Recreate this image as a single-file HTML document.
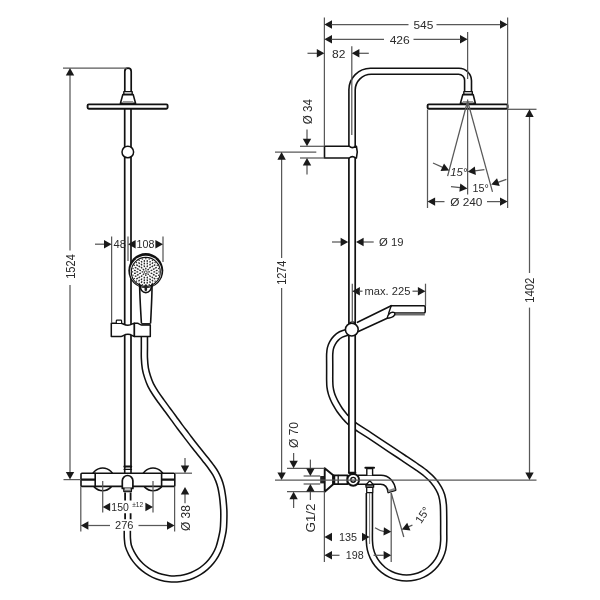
<!DOCTYPE html>
<html><head><meta charset="utf-8"><title>Drawing</title>
<style>
html,body{margin:0;padding:0;background:#fff;}
body{width:600px;height:600px;overflow:hidden;}
svg{display:block;will-change:transform;filter:blur(0.4px);}
text{font-family:"Liberation Sans",sans-serif;fill:#2b2b2b;}
</style></head><body>
<svg width="600" height="600" viewBox="0 0 600 600">
<rect width="600" height="600" fill="#fff"/>
<g id="left">
<path d="M144.40,336.00 C144.40,338.00 144.40,344.33 144.40,348.00 C144.40,351.67 144.24,354.62 144.40,358.00 C144.56,361.38 144.83,365.18 145.35,368.30 C145.87,371.42 146.61,373.92 147.50,376.70 C148.39,379.48 149.35,382.23 150.70,385.00 C152.05,387.77 153.80,390.52 155.60,393.30 C157.40,396.08 159.49,398.92 161.50,401.70 C163.51,404.48 165.61,407.23 167.65,410.00 C169.69,412.77 171.72,415.52 173.75,418.30 C175.78,421.08 177.78,423.92 179.85,426.70 C181.92,429.48 183.65,431.67 186.20,435.00 C188.75,438.33 191.88,442.53 195.15,446.70 C198.42,450.87 203.16,456.67 205.80,460.00 C208.44,463.33 209.38,464.48 211.00,466.70 C212.62,468.92 214.22,471.08 215.50,473.30 C216.78,475.52 217.77,477.77 218.65,480.00 C219.53,482.23 220.23,484.48 220.80,486.70 C221.38,488.92 221.73,491.08 222.10,493.30 C222.47,495.52 222.72,497.22 223.00,500.00 C223.28,502.78 223.67,506.67 223.80,510.00 C223.93,513.33 223.90,516.67 223.80,520.00 C223.70,523.33 223.65,526.64 223.20,530.00 C222.75,533.36 221.82,537.20 221.12,540.16 C220.41,543.12 219.89,545.30 218.98,547.76 C218.06,550.22 216.93,552.63 215.62,554.91 C214.31,557.18 212.80,559.38 211.14,561.41 C209.48,563.44 207.62,565.36 205.65,567.09 C203.68,568.82 201.53,570.41 199.30,571.79 C197.07,573.17 194.70,574.39 192.27,575.39 C189.85,576.38 187.30,577.19 184.75,577.78 C182.19,578.37 179.55,578.75 176.93,578.91 C174.31,579.07 171.64,579.01 169.03,578.74 C166.43,578.47 163.80,577.98 161.27,577.28 C158.74,576.59 156.24,575.67 153.86,574.57 C151.48,573.47 149.15,572.15 146.99,570.68 C144.82,569.20 142.74,567.52 140.85,565.71 C138.95,563.90 137.18,561.90 135.60,559.80 C134.03,557.70 132.61,555.45 131.40,553.12 C130.19,550.79 129.02,548.27 128.35,545.83 C127.68,543.40 127.57,540.81 127.40,538.50 C127.23,536.19 127.32,534.08 127.30,532.00 C127.28,529.92 127.30,527.00 127.30,526.00" fill="none" stroke="#111" stroke-width="7.7" stroke-linecap="butt"/>
<path d="M144.40,336.00 C144.40,338.00 144.40,344.33 144.40,348.00 C144.40,351.67 144.24,354.62 144.40,358.00 C144.56,361.38 144.83,365.18 145.35,368.30 C145.87,371.42 146.61,373.92 147.50,376.70 C148.39,379.48 149.35,382.23 150.70,385.00 C152.05,387.77 153.80,390.52 155.60,393.30 C157.40,396.08 159.49,398.92 161.50,401.70 C163.51,404.48 165.61,407.23 167.65,410.00 C169.69,412.77 171.72,415.52 173.75,418.30 C175.78,421.08 177.78,423.92 179.85,426.70 C181.92,429.48 183.65,431.67 186.20,435.00 C188.75,438.33 191.88,442.53 195.15,446.70 C198.42,450.87 203.16,456.67 205.80,460.00 C208.44,463.33 209.38,464.48 211.00,466.70 C212.62,468.92 214.22,471.08 215.50,473.30 C216.78,475.52 217.77,477.77 218.65,480.00 C219.53,482.23 220.23,484.48 220.80,486.70 C221.38,488.92 221.73,491.08 222.10,493.30 C222.47,495.52 222.72,497.22 223.00,500.00 C223.28,502.78 223.67,506.67 223.80,510.00 C223.93,513.33 223.90,516.67 223.80,520.00 C223.70,523.33 223.65,526.64 223.20,530.00 C222.75,533.36 221.82,537.20 221.12,540.16 C220.41,543.12 219.89,545.30 218.98,547.76 C218.06,550.22 216.93,552.63 215.62,554.91 C214.31,557.18 212.80,559.38 211.14,561.41 C209.48,563.44 207.62,565.36 205.65,567.09 C203.68,568.82 201.53,570.41 199.30,571.79 C197.07,573.17 194.70,574.39 192.27,575.39 C189.85,576.38 187.30,577.19 184.75,577.78 C182.19,578.37 179.55,578.75 176.93,578.91 C174.31,579.07 171.64,579.01 169.03,578.74 C166.43,578.47 163.80,577.98 161.27,577.28 C158.74,576.59 156.24,575.67 153.86,574.57 C151.48,573.47 149.15,572.15 146.99,570.68 C144.82,569.20 142.74,567.52 140.85,565.71 C138.95,563.90 137.18,561.90 135.60,559.80 C134.03,557.70 132.61,555.45 131.40,553.12 C130.19,550.79 129.02,548.27 128.35,545.83 C127.68,543.40 127.57,540.81 127.40,538.50 C127.23,536.19 127.32,534.08 127.30,532.00 C127.28,529.92 127.30,527.00 127.30,526.00" fill="none" stroke="#fff" stroke-width="4.6" stroke-linecap="butt"/>
<circle cx="102.7" cy="479.3" r="11.4" fill="#fff" stroke="#111" stroke-width="1.5"/>
<circle cx="153" cy="479.3" r="11.4" fill="#fff" stroke="#111" stroke-width="1.5"/>
<path d="M124.7,109 V467 M131,109 V467" fill="none" stroke="#111" stroke-width="1.7" stroke-linejoin="round" stroke-linecap="round" />
<path d="M124.8,91.5 V71.4 a3.2,3.2 0 0 1 6.4,0 V91.5" fill="none" stroke="#111" stroke-width="1.7" stroke-linejoin="round" stroke-linecap="round" />
<path d="M123.8,91.6 H132.2 V94.5 H123.8 Z" fill="#fff" stroke="#111" stroke-width="1.4" stroke-linejoin="round" stroke-linecap="round" />
<path d="M122.8,94.6 L120.4,103.4 H135.6 L133.2,94.6 Z" fill="#fff" stroke="#111" stroke-width="1.6" stroke-linejoin="round" stroke-linecap="round" />
<rect x="122.8" y="101" width="10.4" height="2.2" fill="#999"/>
<rect x="87.6" y="104.4" width="80" height="4.4" rx="1.2" fill="#fff" stroke="#111" stroke-width="1.9"/>
<circle cx="127.8" cy="152" r="5.8" fill="#fff" stroke="#111" stroke-width="1.5"/>
<circle cx="145.8" cy="270.6" r="17.5" fill="#111"/>
<circle cx="145.8" cy="271.5" r="15.7" fill="#fff"/>
<circle cx="145.8" cy="271.9" r="14.5" fill="#fff" stroke="#111" stroke-width="1.1"/>
<line x1="148.25" y1="271.90" x2="149.95" y2="271.90" stroke="#2a2a2a" stroke-width="1.35"/>
<line x1="147.53" y1="273.63" x2="148.73" y2="274.83" stroke="#2a2a2a" stroke-width="1.35"/>
<line x1="145.80" y1="274.35" x2="145.80" y2="276.05" stroke="#2a2a2a" stroke-width="1.35"/>
<line x1="144.07" y1="273.63" x2="142.87" y2="274.83" stroke="#2a2a2a" stroke-width="1.35"/>
<line x1="143.35" y1="271.90" x2="141.65" y2="271.90" stroke="#2a2a2a" stroke-width="1.35"/>
<line x1="144.07" y1="270.17" x2="142.87" y2="268.97" stroke="#2a2a2a" stroke-width="1.35"/>
<line x1="145.80" y1="269.45" x2="145.80" y2="267.75" stroke="#2a2a2a" stroke-width="1.35"/>
<line x1="147.53" y1="270.17" x2="148.73" y2="268.97" stroke="#2a2a2a" stroke-width="1.35"/>
<line x1="150.63" y1="273.19" x2="152.37" y2="273.66" stroke="#2a2a2a" stroke-width="1.35"/>
<line x1="149.34" y1="275.44" x2="150.61" y2="276.71" stroke="#2a2a2a" stroke-width="1.35"/>
<line x1="147.09" y1="276.73" x2="147.56" y2="278.47" stroke="#2a2a2a" stroke-width="1.35"/>
<line x1="144.51" y1="276.73" x2="144.04" y2="278.47" stroke="#2a2a2a" stroke-width="1.35"/>
<line x1="142.26" y1="275.44" x2="140.99" y2="276.71" stroke="#2a2a2a" stroke-width="1.35"/>
<line x1="140.97" y1="273.19" x2="139.23" y2="273.66" stroke="#2a2a2a" stroke-width="1.35"/>
<line x1="140.97" y1="270.61" x2="139.23" y2="270.14" stroke="#2a2a2a" stroke-width="1.35"/>
<line x1="142.26" y1="268.36" x2="140.99" y2="267.09" stroke="#2a2a2a" stroke-width="1.35"/>
<line x1="144.51" y1="267.07" x2="144.04" y2="265.33" stroke="#2a2a2a" stroke-width="1.35"/>
<line x1="147.09" y1="267.07" x2="147.56" y2="265.33" stroke="#2a2a2a" stroke-width="1.35"/>
<line x1="149.34" y1="268.36" x2="150.61" y2="267.09" stroke="#2a2a2a" stroke-width="1.35"/>
<line x1="150.63" y1="270.61" x2="152.37" y2="270.14" stroke="#2a2a2a" stroke-width="1.35"/>
<line x1="153.40" y1="271.90" x2="155.20" y2="271.90" stroke="#2a2a2a" stroke-width="1.35"/>
<line x1="152.94" y1="274.50" x2="154.63" y2="275.11" stroke="#2a2a2a" stroke-width="1.35"/>
<line x1="151.62" y1="276.79" x2="153.00" y2="277.94" stroke="#2a2a2a" stroke-width="1.35"/>
<line x1="149.60" y1="278.48" x2="150.50" y2="280.04" stroke="#2a2a2a" stroke-width="1.35"/>
<line x1="147.12" y1="279.38" x2="147.43" y2="281.16" stroke="#2a2a2a" stroke-width="1.35"/>
<line x1="144.48" y1="279.38" x2="144.17" y2="281.16" stroke="#2a2a2a" stroke-width="1.35"/>
<line x1="142.00" y1="278.48" x2="141.10" y2="280.04" stroke="#2a2a2a" stroke-width="1.35"/>
<line x1="139.98" y1="276.79" x2="138.60" y2="277.94" stroke="#2a2a2a" stroke-width="1.35"/>
<line x1="138.66" y1="274.50" x2="136.97" y2="275.11" stroke="#2a2a2a" stroke-width="1.35"/>
<line x1="138.20" y1="271.90" x2="136.40" y2="271.90" stroke="#2a2a2a" stroke-width="1.35"/>
<line x1="138.66" y1="269.30" x2="136.97" y2="268.69" stroke="#2a2a2a" stroke-width="1.35"/>
<line x1="139.98" y1="267.01" x2="138.60" y2="265.86" stroke="#2a2a2a" stroke-width="1.35"/>
<line x1="142.00" y1="265.32" x2="141.10" y2="263.76" stroke="#2a2a2a" stroke-width="1.35"/>
<line x1="144.48" y1="264.42" x2="144.17" y2="262.64" stroke="#2a2a2a" stroke-width="1.35"/>
<line x1="147.12" y1="264.42" x2="147.43" y2="262.64" stroke="#2a2a2a" stroke-width="1.35"/>
<line x1="149.60" y1="265.32" x2="150.50" y2="263.76" stroke="#2a2a2a" stroke-width="1.35"/>
<line x1="151.62" y1="267.01" x2="153.00" y2="265.86" stroke="#2a2a2a" stroke-width="1.35"/>
<line x1="152.94" y1="269.30" x2="154.63" y2="268.69" stroke="#2a2a2a" stroke-width="1.35"/>
<line x1="155.81" y1="273.22" x2="157.60" y2="273.45" stroke="#2a2a2a" stroke-width="1.35"/>
<line x1="155.13" y1="275.77" x2="156.79" y2="276.45" stroke="#2a2a2a" stroke-width="1.35"/>
<line x1="153.81" y1="278.05" x2="155.24" y2="279.14" stroke="#2a2a2a" stroke-width="1.35"/>
<line x1="151.95" y1="279.91" x2="153.04" y2="281.34" stroke="#2a2a2a" stroke-width="1.35"/>
<line x1="149.67" y1="281.23" x2="150.35" y2="282.89" stroke="#2a2a2a" stroke-width="1.35"/>
<line x1="147.12" y1="281.91" x2="147.35" y2="283.70" stroke="#2a2a2a" stroke-width="1.35"/>
<line x1="144.48" y1="281.91" x2="144.25" y2="283.70" stroke="#2a2a2a" stroke-width="1.35"/>
<line x1="141.93" y1="281.23" x2="141.25" y2="282.89" stroke="#2a2a2a" stroke-width="1.35"/>
<line x1="139.65" y1="279.91" x2="138.56" y2="281.34" stroke="#2a2a2a" stroke-width="1.35"/>
<line x1="137.79" y1="278.05" x2="136.36" y2="279.14" stroke="#2a2a2a" stroke-width="1.35"/>
<line x1="136.47" y1="275.77" x2="134.81" y2="276.45" stroke="#2a2a2a" stroke-width="1.35"/>
<line x1="135.79" y1="273.22" x2="134.00" y2="273.45" stroke="#2a2a2a" stroke-width="1.35"/>
<line x1="135.79" y1="270.58" x2="134.00" y2="270.35" stroke="#2a2a2a" stroke-width="1.35"/>
<line x1="136.47" y1="268.03" x2="134.81" y2="267.35" stroke="#2a2a2a" stroke-width="1.35"/>
<line x1="137.79" y1="265.75" x2="136.36" y2="264.66" stroke="#2a2a2a" stroke-width="1.35"/>
<line x1="139.65" y1="263.89" x2="138.56" y2="262.46" stroke="#2a2a2a" stroke-width="1.35"/>
<line x1="141.93" y1="262.57" x2="141.25" y2="260.91" stroke="#2a2a2a" stroke-width="1.35"/>
<line x1="144.48" y1="261.89" x2="144.25" y2="260.10" stroke="#2a2a2a" stroke-width="1.35"/>
<line x1="147.12" y1="261.89" x2="147.35" y2="260.10" stroke="#2a2a2a" stroke-width="1.35"/>
<line x1="149.67" y1="262.57" x2="150.35" y2="260.91" stroke="#2a2a2a" stroke-width="1.35"/>
<line x1="151.95" y1="263.89" x2="153.04" y2="262.46" stroke="#2a2a2a" stroke-width="1.35"/>
<line x1="153.81" y1="265.75" x2="155.24" y2="264.66" stroke="#2a2a2a" stroke-width="1.35"/>
<line x1="155.13" y1="268.03" x2="156.79" y2="267.35" stroke="#2a2a2a" stroke-width="1.35"/>
<line x1="155.81" y1="270.58" x2="157.60" y2="270.35" stroke="#2a2a2a" stroke-width="1.35"/>
<line x1="158.45" y1="271.90" x2="159.55" y2="271.90" stroke="#2a2a2a" stroke-width="1.35"/>
<line x1="158.02" y1="275.17" x2="159.08" y2="275.46" stroke="#2a2a2a" stroke-width="1.35"/>
<line x1="156.76" y1="278.22" x2="157.71" y2="278.77" stroke="#2a2a2a" stroke-width="1.35"/>
<line x1="154.74" y1="280.84" x2="155.52" y2="281.62" stroke="#2a2a2a" stroke-width="1.35"/>
<line x1="152.12" y1="282.86" x2="152.68" y2="283.81" stroke="#2a2a2a" stroke-width="1.35"/>
<line x1="149.07" y1="284.12" x2="149.36" y2="285.18" stroke="#2a2a2a" stroke-width="1.35"/>
<line x1="145.80" y1="284.55" x2="145.80" y2="285.65" stroke="#2a2a2a" stroke-width="1.35"/>
<line x1="142.53" y1="284.12" x2="142.24" y2="285.18" stroke="#2a2a2a" stroke-width="1.35"/>
<line x1="139.48" y1="282.86" x2="138.93" y2="283.81" stroke="#2a2a2a" stroke-width="1.35"/>
<line x1="136.86" y1="280.84" x2="136.08" y2="281.62" stroke="#2a2a2a" stroke-width="1.35"/>
<line x1="134.84" y1="278.22" x2="133.89" y2="278.77" stroke="#2a2a2a" stroke-width="1.35"/>
<line x1="133.58" y1="275.17" x2="132.52" y2="275.46" stroke="#2a2a2a" stroke-width="1.35"/>
<line x1="133.15" y1="271.90" x2="132.05" y2="271.90" stroke="#2a2a2a" stroke-width="1.35"/>
<line x1="133.58" y1="268.63" x2="132.52" y2="268.34" stroke="#2a2a2a" stroke-width="1.35"/>
<line x1="134.84" y1="265.57" x2="133.89" y2="265.02" stroke="#2a2a2a" stroke-width="1.35"/>
<line x1="136.86" y1="262.96" x2="136.08" y2="262.18" stroke="#2a2a2a" stroke-width="1.35"/>
<line x1="139.47" y1="260.94" x2="138.93" y2="259.99" stroke="#2a2a2a" stroke-width="1.35"/>
<line x1="142.53" y1="259.68" x2="142.24" y2="258.62" stroke="#2a2a2a" stroke-width="1.35"/>
<line x1="145.80" y1="259.25" x2="145.80" y2="258.15" stroke="#2a2a2a" stroke-width="1.35"/>
<line x1="149.07" y1="259.68" x2="149.36" y2="258.62" stroke="#2a2a2a" stroke-width="1.35"/>
<line x1="152.12" y1="260.94" x2="152.68" y2="259.99" stroke="#2a2a2a" stroke-width="1.35"/>
<line x1="154.74" y1="262.96" x2="155.52" y2="262.18" stroke="#2a2a2a" stroke-width="1.35"/>
<line x1="156.76" y1="265.57" x2="157.71" y2="265.02" stroke="#2a2a2a" stroke-width="1.35"/>
<line x1="158.02" y1="268.63" x2="159.08" y2="268.34" stroke="#2a2a2a" stroke-width="1.35"/>
<circle cx="145.8" cy="272.2" r="1.4" fill="#fff" stroke="#333" stroke-width="0.9"/>
<path d="M139.7,284.5 C139.5,292 140,300 141.4,323 M152,284.5 C152.2,292 151.8,300 150.6,323" fill="none" stroke="#111" stroke-width="1.6" stroke-linejoin="round" stroke-linecap="round" />
<path d="M140,285.5 C141,295 150.6,295 151.8,285.5" fill="none" stroke="#111" stroke-width="1.6" stroke-linejoin="round" stroke-linecap="round" />
<rect x="144.5" y="284.4" width="2.6" height="6.6" rx="1.2" fill="#222"/>
<path d="M111.3,323.2 H121 C123,323.2 124,325.3 127.9,325.3 C131.8,325.3 132.6,323.2 134.4,323.2 V336.4 C132.6,336.4 131.8,334.3 127.9,334.3 C124,334.3 123,336.4 121,336.4 H111.3 Z" fill="#fff" stroke="#111" stroke-width="1.5" stroke-linejoin="round" stroke-linecap="round" />
<path d="M134.4,323.2 H137.5 C139,323.2 139.5,325 141.4,325 H150.3 V336.4 H134.4 Z" fill="#fff" stroke="#111" stroke-width="1.5" stroke-linejoin="round" stroke-linecap="round" />
<path d="M116.3,323 V321 a0.8,0.8 0 0 1 .8,-.8 H120.8 a0.8,0.8 0 0 1 .8,.8 V323" fill="#fff" stroke="#111" stroke-width="1.2" stroke-linejoin="round" stroke-linecap="round" />
<rect x="141.6" y="323" width="8.8" height="2.2" fill="#222"/>
<rect x="81" y="473.2" width="93.8" height="13.2" rx="1" fill="#fff" stroke="#111" stroke-width="1.6"/>
<path d="M95.2,473.2 V486.4 M161.6,473.2 V486.4" fill="none" stroke="#111" stroke-width="1.6" stroke-linejoin="round" stroke-linecap="round" />
<path d="M82,479.6 H95 M162,479.6 H174" fill="none" stroke="#111" stroke-width="2.2" stroke-linejoin="round" stroke-linecap="round" />
<path d="M124.4,466.6 H131.2" fill="none" stroke="#111" stroke-width="2" stroke-linejoin="round" stroke-linecap="round" />
<path d="M124.2,469.4 H131.4" fill="none" stroke="#111" stroke-width="1.4" stroke-linejoin="round" stroke-linecap="round" />
<path d="M124.7,467 V473 M131,467 V473" fill="none" stroke="#111" stroke-width="1.6" stroke-linejoin="round" stroke-linecap="round" />
<path d="M122.3,488.4 V480.8 a5.3,5.3 0 0 1 10.6,0 V488.4 Z" fill="#fff" stroke="#111" stroke-width="1.7" stroke-linejoin="round" stroke-linecap="round" />
<path d="M123.9,488.4 V491.6 H131.3 V488.4" fill="#fff" stroke="#111" stroke-width="1.5" stroke-linejoin="round" stroke-linecap="round" />
<rect x="124.6" y="489.6" width="6" height="1.6" fill="#777"/>
<path d="M125.1,492.4 V500.4 M130.6,492.4 V500.4 M125.1,513.3 V519.2 M130.6,513.3 V519.2" stroke="#111" stroke-width="1.8" fill="none"/>
<line x1="63" y1="68" x2="127" y2="68" stroke="#585858" stroke-width="1.25"/>
<line x1="63.5" y1="479.6" x2="81" y2="479.6" stroke="#585858" stroke-width="1.25"/>
<line x1="70" y1="74" x2="70" y2="250.4" stroke="#585858" stroke-width="1.25"/>
<line x1="70" y1="285" x2="70" y2="474" stroke="#585858" stroke-width="1.25"/>
<polygon points="70.00,68.00 74.20,75.60 65.80,75.60" fill="#1a1a1a"/>
<polygon points="70.00,479.60 65.80,472.00 74.20,472.00" fill="#1a1a1a"/>
<text x="70.2" y="270.82" font-size="12" text-anchor="middle" transform="rotate(-90 70.2 266.5)" textLength="24.7" lengthAdjust="spacingAndGlyphs" >1524</text>
<line x1="111.6" y1="236.5" x2="111.6" y2="323" stroke="#585858" stroke-width="1.25"/>
<line x1="128" y1="236.5" x2="128" y2="261" stroke="#585858" stroke-width="1.25"/>
<line x1="163" y1="236.5" x2="163" y2="262" stroke="#585858" stroke-width="1.25"/>
<line x1="95" y1="244.2" x2="104.5" y2="244.2" stroke="#585858" stroke-width="1.25"/>
<polygon points="111.60,244.20 104.00,248.40 104.00,240.00" fill="#1a1a1a"/>
<polygon points="128.00,244.20 135.60,240.00 135.60,248.40" fill="#1a1a1a"/>
<polygon points="163.00,244.20 155.40,248.40 155.40,240.00" fill="#1a1a1a"/>
<text x="119.85" y="248.09" font-size="10.8" text-anchor="middle" textLength="12.5" lengthAdjust="spacingAndGlyphs" >48</text>
<text x="145.5" y="248.09" font-size="10.8" text-anchor="middle" textLength="17.9" lengthAdjust="spacingAndGlyphs" >108</text>
<line x1="102.7" y1="481" x2="102.7" y2="512.5" stroke="#585858" stroke-width="1.25"/>
<line x1="153" y1="481" x2="153" y2="512.5" stroke="#585858" stroke-width="1.25"/>
<polygon points="102.70,507.00 110.30,502.80 110.30,511.20" fill="#1a1a1a"/>
<polygon points="153.00,507.00 145.40,511.20 145.40,502.80" fill="#1a1a1a"/>
<rect x="110.5" y="501.5" width="33" height="10.6" fill="#fff"/>
<text x="120.1" y="510.58" font-size="10.5" text-anchor="middle" textLength="17.5" lengthAdjust="spacingAndGlyphs" >150</text>
<text x="137.6" y="507.07" font-size="6.3" text-anchor="middle" textLength="10.9" lengthAdjust="spacingAndGlyphs" >±12</text>
<line x1="80.8" y1="486.5" x2="80.8" y2="531.5" stroke="#585858" stroke-width="1.25"/>
<line x1="174.6" y1="486.5" x2="174.6" y2="531.5" stroke="#585858" stroke-width="1.25"/>
<polygon points="80.80,525.50 88.40,521.30 88.40,529.70" fill="#1a1a1a"/>
<polygon points="174.60,525.50 167.00,529.70 167.00,521.30" fill="#1a1a1a"/>
<line x1="88" y1="525.5" x2="110" y2="525.5" stroke="#585858" stroke-width="1.25"/>
<line x1="138.5" y1="525.5" x2="167" y2="525.5" stroke="#585858" stroke-width="1.25"/>
<rect x="113.3" y="520.4" width="22" height="10.4" fill="#fff"/>
<text x="124.3" y="529.38" font-size="10.5" text-anchor="middle" textLength="18.5" lengthAdjust="spacingAndGlyphs" >276</text>
<line x1="175" y1="473.2" x2="192" y2="473.2" stroke="#585858" stroke-width="1.25"/>
<line x1="185" y1="458" x2="185" y2="466" stroke="#585858" stroke-width="1.25"/>
<line x1="185" y1="494" x2="185" y2="503.3" stroke="#585858" stroke-width="1.25"/>
<polygon points="185.00,473.20 180.80,465.60 189.20,465.60" fill="#1a1a1a"/>
<polygon points="185.00,487.00 189.20,494.60 180.80,494.60" fill="#1a1a1a"/>
<text x="185.6" y="522.42" font-size="12" text-anchor="middle" transform="rotate(-90 185.6 518.1)" textLength="25.9" lengthAdjust="spacingAndGlyphs" >Ø 38</text>
</g>
<g id="right">
<path d="M353.00,332.10 C353.03,332.14 354.21,332.26 353.17,332.31 C352.12,332.37 348.76,332.07 346.72,332.43 C344.69,332.80 342.74,333.52 340.95,334.49 C339.16,335.46 337.40,336.82 335.99,338.25 C334.58,339.67 333.39,341.37 332.46,343.05 C331.53,344.73 330.86,346.51 330.40,348.33 C329.94,350.16 329.82,351.39 329.70,354.00 C329.58,356.61 329.70,360.67 329.70,364.00 C329.70,367.33 329.70,371.33 329.70,374.00 C329.70,376.67 329.65,377.88 329.70,380.00 C329.75,382.12 329.73,384.48 330.00,386.70 C330.27,388.92 330.80,391.33 331.35,393.30 C331.90,395.27 332.58,396.82 333.30,398.50 C334.02,400.18 334.63,401.43 335.70,403.35 C336.77,405.27 338.15,407.78 339.70,410.00 C341.25,412.22 343.50,414.87 345.00,416.65 C346.50,418.43 346.98,419.12 348.70,420.70 C350.42,422.28 351.75,423.67 355.30,426.15 C358.85,428.63 364.22,431.79 370.00,435.60 C375.78,439.41 384.45,445.30 390.00,449.00 C395.55,452.70 398.85,454.82 403.30,457.80 C407.75,460.78 412.92,464.21 416.70,466.85 C420.48,469.49 423.23,471.34 426.00,473.65 C428.77,475.96 431.19,478.25 433.30,480.70 C435.41,483.15 437.25,485.92 438.65,488.35 C440.05,490.78 440.92,492.58 441.70,495.30 C442.48,498.02 443.02,500.58 443.35,504.70 C443.68,508.82 443.64,515.45 443.70,520.00 C443.76,524.55 443.70,528.52 443.70,532.00 C443.70,535.48 443.86,538.00 443.70,540.85 C443.54,543.70 443.38,546.43 442.77,549.12 C442.16,551.80 441.22,554.49 440.02,556.97 C438.83,559.45 437.31,561.86 435.60,564.01 C433.88,566.17 431.87,568.18 429.71,569.90 C427.56,571.61 425.15,573.13 422.67,574.32 C420.19,575.52 417.50,576.46 414.82,577.07 C412.13,577.68 409.31,578.00 406.55,578.00 C403.79,578.00 400.97,577.68 398.28,577.07 C395.60,576.46 392.91,575.52 390.43,574.32 C387.95,573.13 385.54,571.61 383.39,569.90 C381.23,568.18 379.22,566.17 377.50,564.01 C375.79,561.86 374.27,559.45 373.08,556.97 C371.88,554.49 370.94,551.80 370.33,549.12 C369.72,546.43 369.56,544.87 369.40,540.85 C369.24,536.83 369.40,532.98 369.40,525.00 C369.40,517.02 369.40,498.33 369.40,493.00" fill="none" stroke="#111" stroke-width="7.7" stroke-linecap="butt"/>
<path d="M353.00,332.10 C353.03,332.14 354.21,332.26 353.17,332.31 C352.12,332.37 348.76,332.07 346.72,332.43 C344.69,332.80 342.74,333.52 340.95,334.49 C339.16,335.46 337.40,336.82 335.99,338.25 C334.58,339.67 333.39,341.37 332.46,343.05 C331.53,344.73 330.86,346.51 330.40,348.33 C329.94,350.16 329.82,351.39 329.70,354.00 C329.58,356.61 329.70,360.67 329.70,364.00 C329.70,367.33 329.70,371.33 329.70,374.00 C329.70,376.67 329.65,377.88 329.70,380.00 C329.75,382.12 329.73,384.48 330.00,386.70 C330.27,388.92 330.80,391.33 331.35,393.30 C331.90,395.27 332.58,396.82 333.30,398.50 C334.02,400.18 334.63,401.43 335.70,403.35 C336.77,405.27 338.15,407.78 339.70,410.00 C341.25,412.22 343.50,414.87 345.00,416.65 C346.50,418.43 346.98,419.12 348.70,420.70 C350.42,422.28 351.75,423.67 355.30,426.15 C358.85,428.63 364.22,431.79 370.00,435.60 C375.78,439.41 384.45,445.30 390.00,449.00 C395.55,452.70 398.85,454.82 403.30,457.80 C407.75,460.78 412.92,464.21 416.70,466.85 C420.48,469.49 423.23,471.34 426.00,473.65 C428.77,475.96 431.19,478.25 433.30,480.70 C435.41,483.15 437.25,485.92 438.65,488.35 C440.05,490.78 440.92,492.58 441.70,495.30 C442.48,498.02 443.02,500.58 443.35,504.70 C443.68,508.82 443.64,515.45 443.70,520.00 C443.76,524.55 443.70,528.52 443.70,532.00 C443.70,535.48 443.86,538.00 443.70,540.85 C443.54,543.70 443.38,546.43 442.77,549.12 C442.16,551.80 441.22,554.49 440.02,556.97 C438.83,559.45 437.31,561.86 435.60,564.01 C433.88,566.17 431.87,568.18 429.71,569.90 C427.56,571.61 425.15,573.13 422.67,574.32 C420.19,575.52 417.50,576.46 414.82,577.07 C412.13,577.68 409.31,578.00 406.55,578.00 C403.79,578.00 400.97,577.68 398.28,577.07 C395.60,576.46 392.91,575.52 390.43,574.32 C387.95,573.13 385.54,571.61 383.39,569.90 C381.23,568.18 379.22,566.17 377.50,564.01 C375.79,561.86 374.27,559.45 373.08,556.97 C371.88,554.49 370.94,551.80 370.33,549.12 C369.72,546.43 369.56,544.87 369.40,540.85 C369.24,536.83 369.40,532.98 369.40,525.00 C369.40,517.02 369.40,498.33 369.40,493.00" fill="none" stroke="#fff" stroke-width="4.6" stroke-linecap="butt"/>
<rect x="348.9" y="158" width="6.3" height="314" fill="#fff" stroke="none"/>
<path d="M348.9,158 V472.5 M355.2,158 V472.5" fill="none" stroke="#111" stroke-width="1.7" stroke-linejoin="round" stroke-linecap="round" />
<path d="M348.9,146 V89.8 A21.5,21.5 0 0 1 370.4,68.3 H459 A12.5,12.5 0 0 1 471.5,80.8 V91" fill="none" stroke="#111" stroke-width="1.6" stroke-linejoin="round" stroke-linecap="round" />
<path d="M355.2,146 V90 A16,16 0 0 1 371.2,74.2 H458.6 A6,6 0 0 1 464.6,80.2 V91" fill="none" stroke="#111" stroke-width="1.6" stroke-linejoin="round" stroke-linecap="round" />
<path d="M324.5,146.2 H349.2 Q352.4,149.2 355.6,146.2 H356.4 Q358.2,152.1 356.4,158 H355.6 Q352.4,155.2 349.2,158 H324.5 Z" fill="#fff" stroke="#111" stroke-width="1.6" stroke-linejoin="round" stroke-linecap="round" />
<path d="M463.8,91.6 H472.3 V94.5 H463.8 Z" fill="#fff" stroke="#111" stroke-width="1.4" stroke-linejoin="round" stroke-linecap="round" />
<path d="M462.8,94.6 L460.4,103.4 H475.4 L473.2,94.6 Z" fill="#fff" stroke="#111" stroke-width="1.6" stroke-linejoin="round" stroke-linecap="round" />
<rect x="427.6" y="104.4" width="80" height="4.4" rx="1.2" fill="#fff" stroke="#111" stroke-width="1.9"/>
<rect x="462.8" y="101" width="10.4" height="2.2" fill="#999"/>
<path d="M391.2,305.7 H424 a1.2,1.2 0 0 1 1.2,1.2 V311.8 a1.2,1.2 0 0 1 -1.2,1.2 H394" fill="#fff" stroke="#111" stroke-width="1.6" stroke-linejoin="round" stroke-linecap="round" />
<rect x="394.5" y="313.2" width="30.3" height="2.3" fill="#6a6a6a"/>
<path d="M357.5,322.3 L391.2,305.7 M358.4,331.6 L387.2,318.2" fill="none" stroke="#111" stroke-width="1.6" stroke-linejoin="round" stroke-linecap="round" />
<path d="M387.2,318.2 C387.5,314.5 390.5,311.6 393.8,312.4 C396,313.2 394.6,316.5 391.5,317.4 C390,317.9 388.5,318.3 387.2,318.2 Z" fill="#fff" stroke="#111" stroke-width="1.4" stroke-linejoin="round" stroke-linecap="round" />
<path d="M391.2,305.7 L388.6,313.4" fill="none" stroke="#111" stroke-width="1.4" stroke-linejoin="round" stroke-linecap="round" />
<circle cx="351.8" cy="329.6" r="6.4" fill="#fff" stroke="#111" stroke-width="1.6"/>
<path d="M349.6,323 Q352.4,320.8 355.4,323" fill="none" stroke="#111" stroke-width="1.2" stroke-linejoin="round" stroke-linecap="round" />
<rect x="320.2" y="476" width="4.2" height="7.4" fill="#222"/>
<path d="M324.7,468.2 L333.2,475.3 V484.2 L324.7,491.7 Z" fill="#fff" stroke="#111" stroke-width="1.9" stroke-linejoin="round" stroke-linecap="round" />
<path d="M333.2,475.4 H347.5 V484.1 H333.2 Z" fill="#fff" stroke="#111" stroke-width="1.8" stroke-linejoin="round" stroke-linecap="round" />
<path d="M334.6,475.3 V484.2 M338.2,475.3 V484.2" fill="none" stroke="#111" stroke-width="1.3" stroke-linejoin="round" stroke-linecap="round" />
<path d="M358,475.3 H381 C389,475.3 394.6,481.5 395.7,490.2 L388.2,492.6 C387.6,487.6 385.6,484.3 380.6,484.3 H358 Z" fill="#fff" stroke="#111" stroke-width="1.6" stroke-linejoin="round" stroke-linecap="round" />
<path d="M388.3,492.3 L395.4,490 L395,487.8 L387.7,490.2 Z" fill="#8a8a8a"/>
<path d="M366.8,475.3 V468.6 H372.6 V475.3" fill="#fff" stroke="#111" stroke-width="1.4" stroke-linejoin="round" stroke-linecap="round" />
<path d="M365.4,467.7 H374" fill="none" stroke="#111" stroke-width="2.1" stroke-linejoin="round" stroke-linecap="round" />
<path d="M366,485 L369.8,480.6 L373.6,485 Z" fill="#fff" stroke="#111" stroke-width="1.3" stroke-linejoin="round" stroke-linecap="round" />
<path d="M366,485 H373.6 V487.2 H366 Z" fill="#fff" stroke="#111" stroke-width="1.3" stroke-linejoin="round" stroke-linecap="round" />
<path d="M366.7,487.4 H372.8 V492.6 H366.7 Z" fill="#fff" stroke="#111" stroke-width="1.3" stroke-linejoin="round" stroke-linecap="round" />
<path d="M349,472.8 H355.3" fill="none" stroke="#111" stroke-width="2.2" stroke-linejoin="round" stroke-linecap="round" />
<circle cx="353.2" cy="479.8" r="5.9" fill="#fff" stroke="#111" stroke-width="2"/>
<circle cx="353.2" cy="479.8" r="2.4" fill="#fff" stroke="#111" stroke-width="1.4"/>
<line x1="324.4" y1="17.5" x2="324.4" y2="146" stroke="#585858" stroke-width="1.25"/>
<line x1="324.4" y1="491.7" x2="324.4" y2="562" stroke="#585858" stroke-width="1.25"/>
<line x1="507.6" y1="17.5" x2="507.6" y2="208" stroke="#585858" stroke-width="1.25"/>
<line x1="467.6" y1="32" x2="467.6" y2="79" stroke="#585858" stroke-width="1.25"/>
<line x1="467.6" y1="99.5" x2="467.6" y2="194.5" stroke="#585858" stroke-width="1.25"/>
<line x1="427.5" y1="109.5" x2="427.5" y2="208" stroke="#585858" stroke-width="1.25"/>
<polygon points="324.40,24.50 332.00,20.30 332.00,28.70" fill="#1a1a1a"/>
<polygon points="507.60,24.50 500.00,28.70 500.00,20.30" fill="#1a1a1a"/>
<line x1="331.5" y1="24.5" x2="408.5" y2="24.5" stroke="#585858" stroke-width="1.25"/>
<line x1="436.5" y1="24.5" x2="500.5" y2="24.5" stroke="#585858" stroke-width="1.25"/>
<text x="423.4" y="28.81" font-size="11.7" text-anchor="middle" textLength="19.9" lengthAdjust="spacingAndGlyphs" >545</text>
<polygon points="324.40,39.30 332.00,35.10 332.00,43.50" fill="#1a1a1a"/>
<polygon points="467.60,39.30 460.00,43.50 460.00,35.10" fill="#1a1a1a"/>
<line x1="331.5" y1="39.3" x2="384" y2="39.3" stroke="#585858" stroke-width="1.25"/>
<line x1="413.5" y1="39.3" x2="460.5" y2="39.3" stroke="#585858" stroke-width="1.25"/>
<text x="399.75" y="43.61" font-size="11.7" text-anchor="middle" textLength="20.2" lengthAdjust="spacingAndGlyphs" >426</text>
<line x1="351.8" y1="46.3" x2="351.8" y2="135" stroke="#585858" stroke-width="1.25"/>
<line x1="307.5" y1="53.3" x2="317.5" y2="53.3" stroke="#585858" stroke-width="1.25"/>
<line x1="358.5" y1="53.3" x2="368.8" y2="53.3" stroke="#585858" stroke-width="1.25"/>
<polygon points="324.40,53.30 316.80,57.50 316.80,49.10" fill="#1a1a1a"/>
<polygon points="351.80,53.30 359.40,49.10 359.40,57.50" fill="#1a1a1a"/>
<text x="338.75" y="57.61" font-size="11.7" text-anchor="middle" textLength="13.4" lengthAdjust="spacingAndGlyphs" >82</text>
<line x1="300" y1="146.3" x2="324.4" y2="146.3" stroke="#585858" stroke-width="1.25"/>
<line x1="300" y1="158" x2="324.4" y2="158" stroke="#585858" stroke-width="1.25"/>
<line x1="275" y1="152.1" x2="316.3" y2="152.1" stroke="#585858" stroke-width="1.25"/>
<line x1="307" y1="129.5" x2="307" y2="139.5" stroke="#585858" stroke-width="1.25"/>
<line x1="307" y1="164.5" x2="307" y2="174.5" stroke="#585858" stroke-width="1.25"/>
<polygon points="307.00,146.30 302.80,138.70 311.20,138.70" fill="#1a1a1a"/>
<polygon points="307.00,158.00 311.20,165.60 302.80,165.60" fill="#1a1a1a"/>
<text x="307.4" y="115.92" font-size="12" text-anchor="middle" transform="rotate(-90 307.4 111.6)" textLength="25.1" lengthAdjust="spacingAndGlyphs" >Ø 34</text>
<line x1="281.6" y1="158.5" x2="281.6" y2="258" stroke="#585858" stroke-width="1.25"/>
<line x1="281.6" y1="288" x2="281.6" y2="474" stroke="#585858" stroke-width="1.25"/>
<polygon points="281.60,152.10 285.80,159.70 277.40,159.70" fill="#1a1a1a"/>
<polygon points="281.60,480.00 277.40,472.40 285.80,472.40" fill="#1a1a1a"/>
<text x="281.8" y="277.02" font-size="12" text-anchor="middle" transform="rotate(-90 281.8 272.7)" textLength="24.3" lengthAdjust="spacingAndGlyphs" >1274</text>
<line x1="332" y1="242" x2="342" y2="242" stroke="#585858" stroke-width="1.25"/>
<line x1="362.5" y1="242" x2="373.7" y2="242" stroke="#585858" stroke-width="1.25"/>
<polygon points="348.20,242.00 340.60,246.20 340.60,237.80" fill="#1a1a1a"/>
<polygon points="356.00,242.00 363.60,237.80 363.60,246.20" fill="#1a1a1a"/>
<text x="391.25" y="246.03" font-size="11.2" text-anchor="middle" textLength="24.4" lengthAdjust="spacingAndGlyphs" >Ø 19</text>
<line x1="352.3" y1="283.7" x2="352.3" y2="321" stroke="#585858" stroke-width="1.25"/>
<line x1="425.5" y1="283.7" x2="425.5" y2="306" stroke="#585858" stroke-width="1.25"/>
<polygon points="352.30,291.20 359.90,287.00 359.90,295.40" fill="#1a1a1a"/>
<polygon points="425.50,291.20 417.90,295.40 417.90,287.00" fill="#1a1a1a"/>
<line x1="359" y1="291.2" x2="362.5" y2="291.2" stroke="#585858" stroke-width="1.25"/>
<line x1="412.5" y1="291.2" x2="418.5" y2="291.2" stroke="#585858" stroke-width="1.25"/>
<text x="387.5" y="295.23" font-size="11.2" text-anchor="middle" textLength="45.9" lengthAdjust="spacingAndGlyphs" >max. 225</text>
<line x1="508" y1="109.3" x2="536.5" y2="109.3" stroke="#585858" stroke-width="1.25"/>
<line x1="275" y1="480" x2="536.5" y2="480" stroke="#585858" stroke-width="1.25"/>
<line x1="529.5" y1="116" x2="529.5" y2="273" stroke="#585858" stroke-width="1.25"/>
<line x1="529.5" y1="307.6" x2="529.5" y2="474" stroke="#585858" stroke-width="1.25"/>
<polygon points="529.50,109.30 533.70,116.90 525.30,116.90" fill="#1a1a1a"/>
<polygon points="529.50,480.00 525.30,472.40 533.70,472.40" fill="#1a1a1a"/>
<text x="529.6" y="294.52" font-size="12" text-anchor="middle" transform="rotate(-90 529.6 290.2)" textLength="25.3" lengthAdjust="spacingAndGlyphs" >1402</text>
<polygon points="427.50,201.60 435.10,197.40 435.10,205.80" fill="#1a1a1a"/>
<polygon points="507.60,201.60 500.00,205.80 500.00,197.40" fill="#1a1a1a"/>
<line x1="435" y1="201.6" x2="444.5" y2="201.6" stroke="#585858" stroke-width="1.25"/>
<line x1="487" y1="201.6" x2="500.5" y2="201.6" stroke="#585858" stroke-width="1.25"/>
<text x="466.3" y="205.83" font-size="11.2" text-anchor="middle" textLength="32.3" lengthAdjust="spacingAndGlyphs" >Ø 240</text>
<line x1="467.6" y1="101" x2="447.6" y2="176.2" stroke="#585858" stroke-width="1.25"/>
<line x1="467.6" y1="101" x2="492.5" y2="191.8" stroke="#585858" stroke-width="1.25"/>
<text x="458.8" y="176.23" font-size="11.2" text-anchor="middle" textLength="17.3" lengthAdjust="spacingAndGlyphs" font-style="italic">15°</text>
<text x="480.7" y="192.23" font-size="11.2" text-anchor="middle" textLength="16.3" lengthAdjust="spacingAndGlyphs" >15°</text>
<line x1="433" y1="163" x2="444.34" y2="168.18" stroke="#585858" stroke-width="1.25"/>
<polygon points="449.20,170.40 440.54,171.06 444.03,163.42" fill="#1a1a1a"/>
<line x1="484.4" y1="169.6" x2="472.78" y2="171.07" stroke="#585858" stroke-width="1.25"/>
<polygon points="467.80,171.70 474.81,166.58 475.87,174.91" fill="#1a1a1a"/>
<line x1="451" y1="186.6" x2="462.47999999999996" y2="187.86" stroke="#585858" stroke-width="1.25"/>
<polygon points="467.40,188.40 459.39,191.75 460.30,183.40" fill="#1a1a1a"/>
<line x1="506.4" y1="179.4" x2="495.76" y2="183.04" stroke="#585858" stroke-width="1.25"/>
<polygon points="491.20,184.60 497.03,178.17 499.75,186.11" fill="#1a1a1a"/>
<line x1="287" y1="468.3" x2="324.4" y2="468.3" stroke="#585858" stroke-width="1.25"/>
<line x1="287" y1="491.7" x2="324.4" y2="491.7" stroke="#585858" stroke-width="1.25"/>
<line x1="293.6" y1="453" x2="293.6" y2="462" stroke="#585858" stroke-width="1.25"/>
<line x1="293.6" y1="498" x2="293.6" y2="508" stroke="#585858" stroke-width="1.25"/>
<polygon points="293.60,468.30 289.40,460.70 297.80,460.70" fill="#1a1a1a"/>
<polygon points="293.60,491.70 297.80,499.30 289.40,499.30" fill="#1a1a1a"/>
<text x="293.9" y="439.32" font-size="12" text-anchor="middle" transform="rotate(-90 293.9 435)" textLength="26.1" lengthAdjust="spacingAndGlyphs" >Ø 70</text>
<line x1="303.6" y1="476" x2="320.2" y2="476" stroke="#585858" stroke-width="1.25"/>
<line x1="303.6" y1="484" x2="320.2" y2="484" stroke="#585858" stroke-width="1.25"/>
<line x1="310.4" y1="459.6" x2="310.4" y2="469.5" stroke="#585858" stroke-width="1.25"/>
<line x1="310.4" y1="490.5" x2="310.4" y2="500" stroke="#585858" stroke-width="1.25"/>
<polygon points="310.40,476.00 306.20,468.40 314.60,468.40" fill="#1a1a1a"/>
<polygon points="310.40,484.00 314.60,491.60 306.20,491.60" fill="#1a1a1a"/>
<text x="310.9" y="522.32" font-size="12" text-anchor="middle" transform="rotate(-90 310.9 518)" textLength="28.9" lengthAdjust="spacingAndGlyphs" >G1/2</text>
<line x1="369.6" y1="493" x2="369.6" y2="544" stroke="#585858" stroke-width="0.8"/>
<line x1="391.2" y1="493" x2="391.2" y2="562" stroke="#585858" stroke-width="1.25"/>
<polygon points="324.40,537.00 332.00,532.80 332.00,541.20" fill="#1a1a1a"/>
<polygon points="369.60,537.00 362.00,541.20 362.00,532.80" fill="#1a1a1a"/>
<text x="348.1" y="541.03" font-size="11.2" text-anchor="middle" textLength="18.1" lengthAdjust="spacingAndGlyphs" >135</text>
<polygon points="324.40,555.30 332.00,551.10 332.00,559.50" fill="#1a1a1a"/>
<polygon points="391.20,555.30 383.60,559.50 383.60,551.10" fill="#1a1a1a"/>
<line x1="331.5" y1="555.3" x2="339.5" y2="555.3" stroke="#585858" stroke-width="1.25"/>
<line x1="373.5" y1="555.3" x2="384" y2="555.3" stroke="#585858" stroke-width="1.25"/>
<text x="354.8" y="559.33" font-size="11.2" text-anchor="middle" textLength="17.9" lengthAdjust="spacingAndGlyphs" >198</text>
<line x1="391.2" y1="493" x2="403.8" y2="537" stroke="#585858" stroke-width="1.25"/>
<path d="M375,527.8 Q379.5,530.8 384.5,531.6" fill="none" stroke="#585858" stroke-width="1.2"/>
<polygon points="391.30,531.80 383.49,535.60 383.93,527.21" fill="#1a1a1a"/>
<line x1="412.4" y1="525.2" x2="404.98" y2="528.28" stroke="#585858" stroke-width="1.25"/>
<polygon points="401.80,529.60 407.21,522.81 410.43,530.57" fill="#1a1a1a"/>
<text x="422.5" y="519.03" font-size="11.2" text-anchor="middle" transform="rotate(-56 422.5 515)" textLength="16.9" lengthAdjust="spacingAndGlyphs" >15°</text>
</g>
</svg></body></html>
